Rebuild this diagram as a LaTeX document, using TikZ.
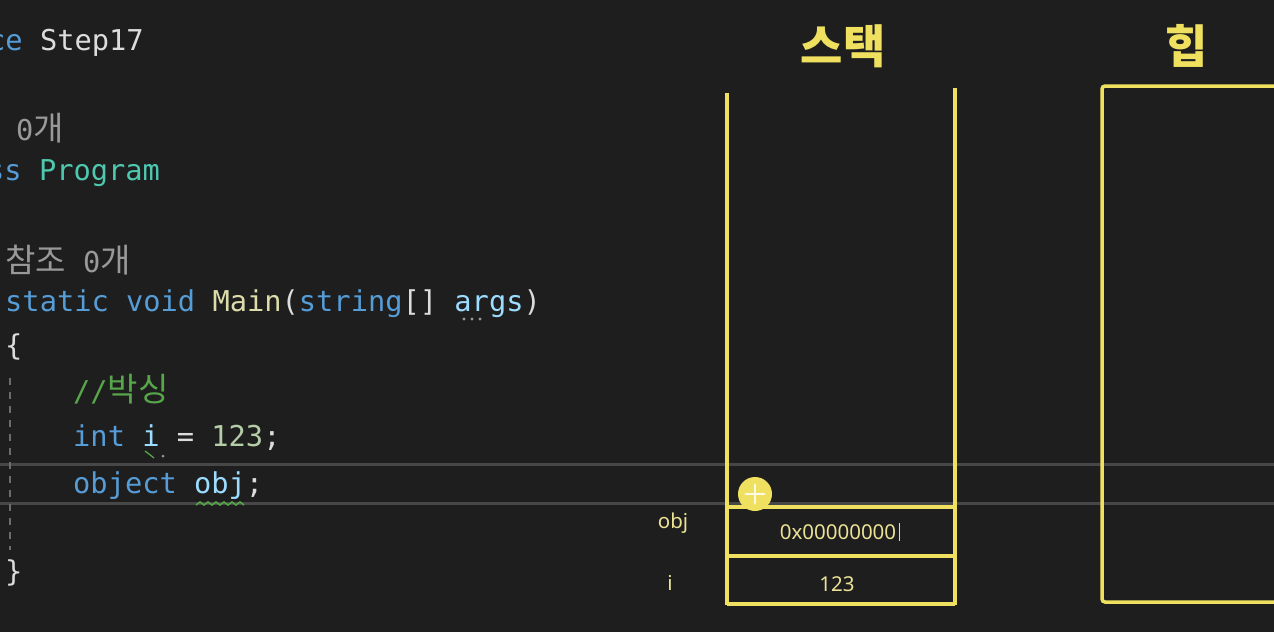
\documentclass[tikz,border=0pt]{standalone}
\usepackage{fontspec}
\setmainfont{Noto Sans}
\setmonofont{DejaVu Sans Mono}
\newfontfamily\cjk{Noto Sans CJK KR}
\usetikzlibrary{arrows.meta}
\definecolor{bg}{HTML}{1E1E1E}
\definecolor{kw}{HTML}{569CD6}
\definecolor{txt}{HTML}{DCDCDC}
\definecolor{cls}{HTML}{4EC9B0}
\definecolor{fn}{HTML}{DCDCAA}
\definecolor{var}{HTML}{9CDCFE}
\definecolor{cmt}{HTML}{57A64A}
\definecolor{num}{HTML}{B5CEA8}
\definecolor{lens}{HTML}{999999}
\definecolor{hl}{HTML}{474747}
\definecolor{memy}{RGB}{240,224,96}
\definecolor{memtxt}{RGB}{236,226,150}
\newcommand{\kr}[1]{{\cjk\fontsize{33}{36}\selectfont #1}}

\begin{document}
\begin{tikzpicture}[x=1pt,y=-1pt,
  every node/.style={inner sep=0pt},
  code/.style={anchor=base west,font=\ttfamily\fontsize{28.7}{32}\selectfont,text=txt},
  lenstext/.style={code,text=lens},
  memline/.style={memy,line width=3.5pt},
  memlabel/.style={text=memtxt,font=\fontsize{20.5}{24}\selectfont},
  title/.style={text=memy,font=\cjk\bfseries\fontsize{46}{50}\selectfont}]
  \fill[bg] (0,0) rectangle (1274,632);
  \clip (0,0) rectangle (1274,632);
  % current line box
  \draw[hl,line width=3pt] (0,464) -- (1274,464) (0,503) -- (1274,503);
  \draw[hl!80,line width=2.5pt,dash pattern=on 7pt off 7pt] (10,378) -- (10,550);
  % code
  \node[code] (ns) at (-12,50) {\textcolor{kw}{ce} Step17};
  \node[lenstext] (ref1) at (-62,140) {\kr{참조} 0\kr{개}};
  \node[code] (prog) at (-13,180) {\textcolor{kw}{ss} \textcolor{cls}{Program}};
  \node[lenstext] (ref2) at (5,272) {\kr{참조} 0\kr{개}};
  \node[code] (main) at (5,311) {\textcolor{kw}{static void} \textcolor{fn}{Main}(\textcolor{kw}{string}[] \textcolor{var}{args})};
  \node[code] (open) at (5,355) {\{};
  \node[code,text=cmt] (box) at (73,401) {//\kr{박싱}};
  \node[code] (int) at (73,446) {\textcolor{kw}{int} \textcolor{var}{i} = \textcolor{num}{123};};
  \node[code] (obj) at (73,493) {\textcolor{kw}{object} \textcolor{var}{obj};};
  \node[code] (close) at (5,581) {\}};
  % squiggles
  \foreach \x in {464,472,480} \fill[lens] (\x,319) circle (1.6pt);
  \draw[cmt,line width=1.3pt] (145,451) -- (149,454) -- (154,458);
  \fill[lens] (163,456) circle (1.5pt);
  \draw[cmt,line width=1.6pt] (196,505) \foreach \k in {0,...,5} {-- ++(4,-3) -- ++(4,3)};
  % stack
  \node[title] (stack) at (843,46) {스택};
  \node[title] (heap) at (1187,46) {힙};
  \draw[memline] (727,93) -- (727,605);
  \draw[memline] (955,88) -- (955,605);
  \draw[memline] (727,507) -- (955,507) (727,556) -- (955,556) (727,604) -- (955,604);
  \draw[memline,rounded corners=3pt] (1290,86) -- (1102,86) -- (1102,602) -- (1290,602);
  \node[memlabel] (objname) at (673,523) {obj};
  \node[memlabel] (objval) at (838,532) {0x00000000};
  \draw[memtxt,line width=1.8pt] ([xshift=3pt]objval.east) ++(0,-9) -- ++(0,18);
  \node[memlabel] (iname) at (670,583) {i};
  \node[memlabel] (ival) at (837,584) {123};
  % move cursor
  \fill[memy] (755,494) circle (17pt);
  \draw[white!85!memy,line width=1.2pt,{Stealth[length=3.5pt]}-{Stealth[length=3.5pt]}] (744,494) -- (766,494);
  \draw[white!85!memy,line width=1.2pt,{Stealth[length=3.5pt]}-{Stealth[length=3.5pt]}] (755,483) -- (755,505);
\end{tikzpicture}
\end{document}
